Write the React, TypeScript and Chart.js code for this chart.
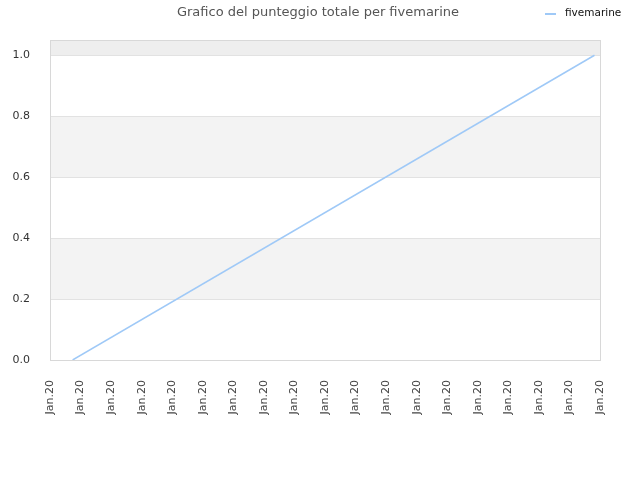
import { Chart, registerables } from "chart.js";
import { useEffect, useRef } from "react";

Chart.register(...registerables);

const titleText = "Grafico del punteggio totale per fivemarine";
const seriesName = "fivemarine";
const xLabels = [
    "Jan.20", "Jan.20", "Jan.20", "Jan.20", "Jan.20", "Jan.20", "Jan.20",
    "Jan.20", "Jan.20", "Jan.20", "Jan.20", "Jan.20", "Jan.20", "Jan.20",
    "Jan.20", "Jan.20", "Jan.20", "Jan.20", "Jan.20",
];
// positions of the points along the date axis (in tick units) and their scores
const pointX = [0.74, 17.82];
const pointY = [0, 1];

const FONT = "DejaVu Sans";
const LINE_COLOR = "#9fc9f7";

const decorPlugin = {
    id: "decor",
    beforeDatasetsDraw(chart: any) {
        const { ctx, chartArea, scales } = chart;
        const y = scales.y;
        const vals: number[] = y.ticks.map((t: any) => t.value);
        vals.push(y.max);
        ctx.save();
        for (let i = 0; i < vals.length - 1; i++) {
            if (i % 2 === 1) {
                const top = y.getPixelForValue(vals[i + 1]);
                const bottom = y.getPixelForValue(vals[i]);
                ctx.fillStyle = i === vals.length - 2 ? "#eeeeee" : "#f3f3f3";
                ctx.fillRect(chartArea.left, top, chartArea.right - chartArea.left, bottom - top);
            }
        }
        // grid lines on top of bands
        ctx.strokeStyle = "#e2e2e2";
        ctx.lineWidth = 1;
        for (const v of vals.slice(0, -1)) {
            const py = Math.round(y.getPixelForValue(v)) + 0.5;
            ctx.beginPath();
            ctx.moveTo(chartArea.left, py);
            ctx.lineTo(chartArea.right, py);
            ctx.stroke();
        }
        ctx.strokeStyle = "#d8d8d8";
        ctx.strokeRect(
            Math.round(chartArea.left) + 0.5,
            Math.round(chartArea.top) + 0.5,
            Math.round(chartArea.right - chartArea.left),
            Math.round(chartArea.bottom - chartArea.top)
        );
        ctx.restore();
    },
    afterDraw(chart: any) {
        const { ctx } = chart;
        ctx.save();
        ctx.textBaseline = "middle";
        ctx.font = `13px "${FONT}"`;
        ctx.fillStyle = "#555555";
        ctx.textAlign = "center";
        ctx.fillText(titleText, 318, 12.5);

        ctx.strokeStyle = LINE_COLOR;
        ctx.lineWidth = 2;
        ctx.beginPath();
        ctx.moveTo(545, 14);
        ctx.lineTo(556, 14);
        ctx.stroke();

        ctx.font = `10.5px "${FONT}"`;
        ctx.fillStyle = "#111111";
        ctx.textAlign = "left";
        ctx.fillText(seriesName, 565, 13);
        ctx.restore();
    },
};

const App: React.FC = () => {
    const chartRef = useRef<HTMLCanvasElement>(null);

    useEffect(() => {
        if (!chartRef.current) return;
        const ctx = chartRef.current.getContext("2d");
        if (!ctx) return;

        const chart = new Chart(ctx, {
            type: "line",
            data: {
                datasets: [
                    {
                        label: seriesName,
                        data: pointX.map((x, i) => ({ x, y: pointY[i] })),
                        borderColor: LINE_COLOR,
                        borderWidth: 1.5,
                        pointRadius: 0,
                        tension: 0,
                        fill: false,
                    },
                ],
            },
            options: {
                animation: false,
                responsive: false,
                devicePixelRatio: 1,
                layout: { padding: { top: 40, right: 40, left: 0, bottom: 0 } },
                plugins: {
                    legend: { display: false },
                    title: { display: false },
                    tooltip: { enabled: false },
                },
                scales: {
                    x: {
                        type: "linear",
                        min: 0,
                        max: xLabels.length - 1,
                        grid: { display: false },
                        border: { display: false },
                        afterFit: (scale: any) => {
                            scale.height = 120;
                        },
                        ticks: {
                            stepSize: 1,
                            autoSkip: false,
                            minRotation: 90,
                            maxRotation: 90,
                            padding: 12,
                            color: "#444444",
                            font: { family: FONT, size: 11 },
                            callback: (value: any) => xLabels[Math.round(Number(value))] ?? "",
                        },
                    },
                    y: {
                        min: 0,
                        max: 1.05,
                        grid: { display: false },
                        border: { display: false },
                        afterFit: (scale: any) => {
                            scale.width = 50;
                        },
                        ticks: {
                            stepSize: 0.2,
                            includeBounds: false,
                            padding: 12,
                            color: "#333333",
                            font: { family: FONT, size: 11 },
                            callback: (value: any) => Number(value).toFixed(1),
                        },
                    },
                },
            },
            plugins: [decorPlugin],
        });

        return () => {
            chart.destroy();
        };
    }, []);

    return (
        <div style={{ position: "fixed", left: 0, top: 0, width: 640, height: 480, background: "#fff" }}>
            <canvas ref={chartRef} width={640} height={480}></canvas>
        </div>
    );
};

export default App;
